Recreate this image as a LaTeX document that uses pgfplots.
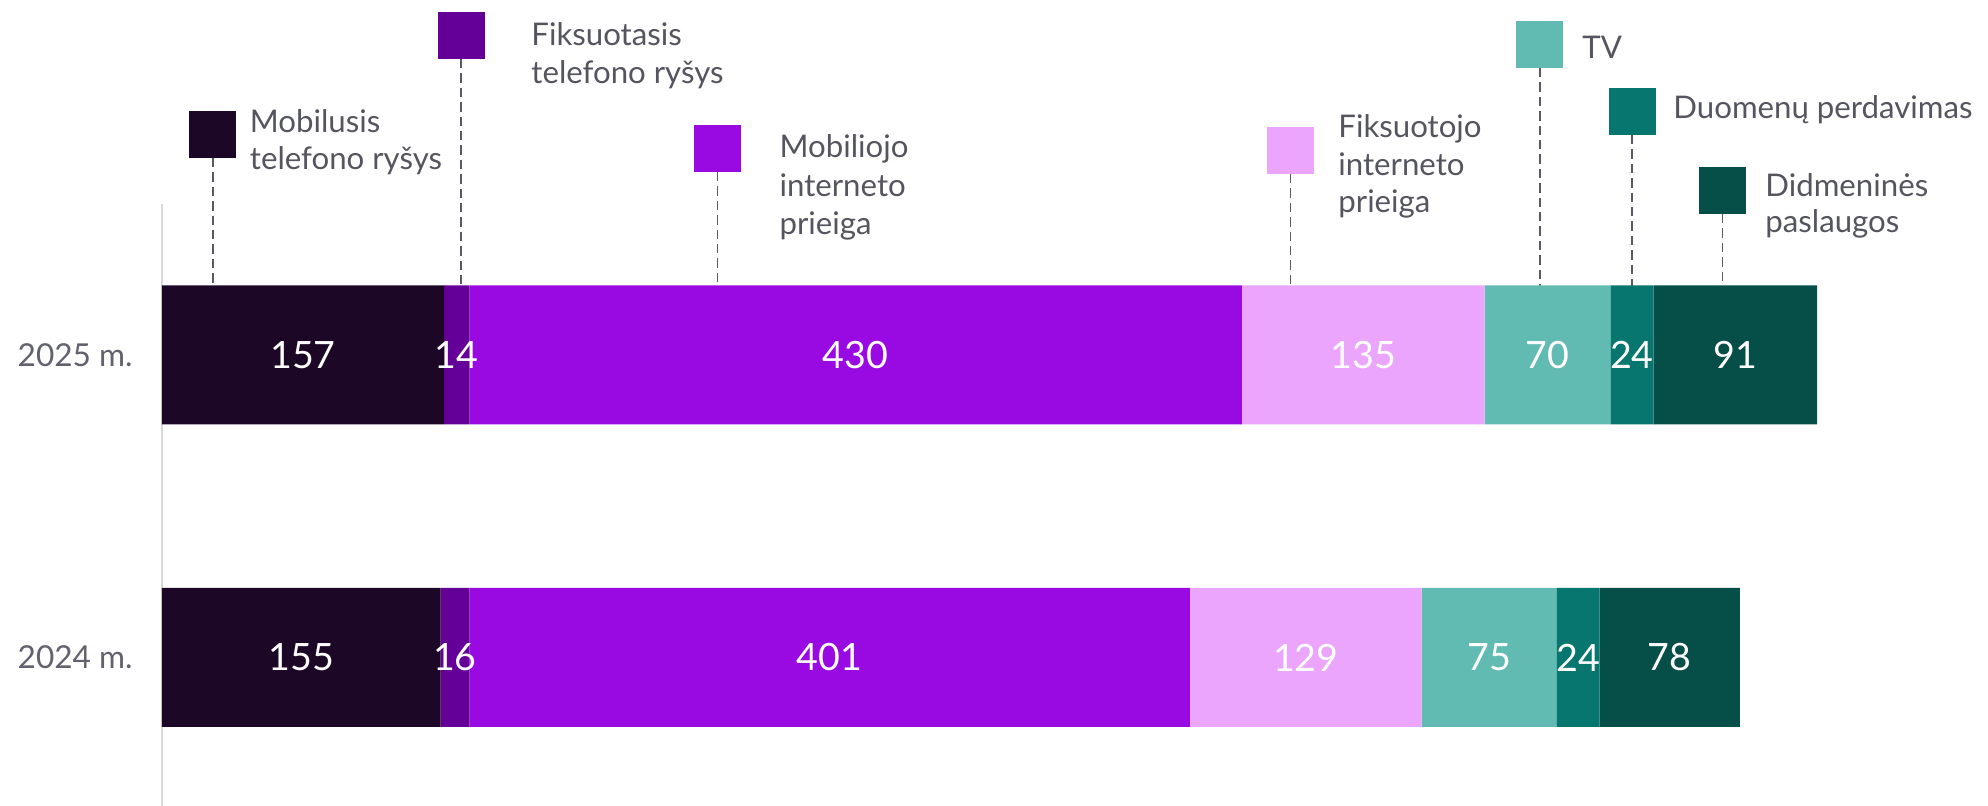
\documentclass[border=0pt]{standalone}
\usepackage{fontspec}
\setmainfont{Lato}
\usepackage{pgfplots}
\pgfplotsset{compat=1.18}

\definecolor{c1}{HTML}{1C0726}
\definecolor{c2}{HTML}{640098}
\definecolor{c3}{HTML}{990AE3}
\definecolor{c4}{HTML}{EBA5FD}
\definecolor{c5}{HTML}{62BBB3}
\definecolor{c6}{HTML}{06766F}
\definecolor{c7}{HTML}{064E48}
\definecolor{labgray}{HTML}{55555F}
\definecolor{yeargray}{HTML}{62626E}
\definecolor{dashgray}{HTML}{5A5A66}
\definecolor{axgray}{HTML}{D9D9D9}

\newcommand{\labfont}{\fontsize{15.6}{18}\selectfont}
\newcommand{\lab}[3]{\node[anchor=base west, inner sep=0pt, font=\labfont, text=labgray] at (axis cs:#1,#2) {#3};}
\newcommand{\sq}[4]{% x of square/line, y of square centre, y of square bottom, colour
  \draw[dashgray, line width=0.75pt, dash pattern=on 4.7pt off 2.5pt] (axis cs:#1,#3) -- (axis cs:#1,520);
  \node[fill=#4, inner sep=0pt, minimum size=23.5pt] at (axis cs:#1,#2) {};}

\begin{document}
\begin{tikzpicture}
\begin{axis}[
  at={(0,0)}, anchor=south west,
  scale only axis, width=913pt, height=403pt,
  xmin=0, xmax=1016.14, ymin=0, ymax=806,
  xbar stacked, bar width=69.5pt,
  axis line style={draw=none},
  major tick length=0pt,
  xtick=\empty,
  ytick={148.5,451},
  yticklabels={2024 m., 2025 m.},
  yticklabel style={anchor=east, inner sep=0pt, xshift=-14.5pt,
    font=\fontsize{15.8}{18}\selectfont, text=yeargray},
  clip=false,
]
\addplot[fill=c1, draw=none] coordinates {(157,451) (155,148.5)};
\addplot[fill=c2, draw=none] coordinates {(14,451) (16,148.5)};
\addplot[fill=c3, draw=none] coordinates {(430,451) (401,148.5)};
\addplot[fill=c4, draw=none] coordinates {(135,451) (129,148.5)};
\addplot[fill=c5, draw=none] coordinates {(70,451) (75,148.5)};
\addplot[fill=c6, draw=none] coordinates {(24,451) (24,148.5)};
\addplot[fill=c7, draw=none] coordinates {(91,451) (78,148.5)};

\draw[axgray, line width=1pt] (axis cs:0,0) -- (axis cs:0,602);

% annotations (legend markers with leader lines)
\sq{28.38}{671}{648}{c1}
\lab{48.69}{673}{Mobilusis}
\lab{48.69}{636}{telefono ryšys}

\sq{166.39}{770.5}{747}{c2}
\lab{205.34}{760}{Fiksuotasis}
\lab{205.34}{722}{telefono ryšys}

\sq{309.1}{657.5}{634}{c3}
\lab{343.46}{648}{Mobiliojo}
\lab{343.46}{609}{interneto}
\lab{343.46}{571}{prieiga}

\sq{627.9}{655.5}{632}{c4}
\lab{654.42}{668}{Fiksuotojo}
\lab{654.42}{630}{interneto}
\lab{654.42}{593}{prieiga}

\sq{766.83}{761.5}{738}{c5}
\lab{790.21}{747}{TV}

\sq{818.1}{694}{671}{c6}
\lab{840.85}{687}{Duomenų perdavimas}

\sq{868.39}{615.5}{592}{c7}
\lab{892.04}{609}{Didmeninės}
\lab{892.04}{573}{paslaugos}
\end{axis}

\begin{axis}[
  at={(0,0)}, anchor=south west,
  scale only axis, width=913pt, height=403pt,
  xmin=0, xmax=1016.14, ymin=0, ymax=806,
  hide axis, clip=false,
]
\addplot[only marks, mark=none, nodes near coords, point meta=explicit symbolic,
  every node near coord/.style={anchor=center, inner sep=0pt, text=white,
    font=\fontsize{18.8}{20}\selectfont}]
  coordinates {
    (78.5,451)[157] (164,451)[14] (386,451)[430] (668.5,451)[135]
    (771,451)[70] (818,451)[24] (875.5,451)[91]
    (77.5,148.5)[155] (163,148.5)[16] (371.5,148.5)[401] (636.5,148.5)[129]
    (738.5,148.5)[75] (788,148.5)[24] (839,148.5)[78]
  };
\end{axis}
\pgfresetboundingbox
\path[use as bounding box] (-81pt,0pt) rectangle (913pt,403pt);
\end{tikzpicture}
\end{document}
